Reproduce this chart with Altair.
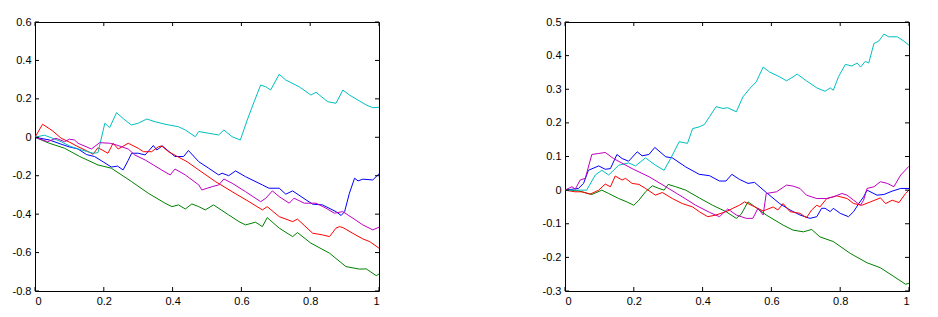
import altair as alt
import pandas as pd

# ---------------- data ----------------
SERIES = ["blue", "green", "red", "cyan", "magenta"]
COLORS = ["#0000FF", "#008000", "#FF0000", "#00BFBF", "#BF00BF"]

X_TICKS = [0, 0.2, 0.4, 0.6, 0.8, 1]
L_Y_TICKS = [-0.8, -0.6, -0.4, -0.2, 0, 0.2, 0.4, 0.6]
R_Y_TICKS = [-0.3, -0.2, -0.1, 0, 0.1, 0.2, 0.3, 0.4, 0.5]

# left panel
L_blue = [(0, 0), (0.042, -0.014), (0.076, -0.036), (0.1, -0.05), (0.125, -0.061), (0.15, -0.09),
          (0.173, -0.1), (0.2, -0.13), (0.222, -0.155), (0.24, -0.15), (0.256, -0.17), (0.271, -0.12),
          (0.281, -0.083), (0.30, -0.083), (0.32, -0.092), (0.344, -0.043), (0.354, -0.066),
          (0.37, -0.045), (0.407, -0.1), (0.432, -0.1), (0.446, -0.069), (0.476, -0.127),
          (0.505, -0.161), (0.534, -0.196), (0.544, -0.187), (0.563, -0.2), (0.583, -0.175),
          (0.612, -0.205), (0.661, -0.248), (0.68, -0.265), (0.71, -0.265), (0.729, -0.296),
          (0.749, -0.279), (0.788, -0.326), (0.807, -0.348), (0.836, -0.352), (0.875, -0.387),
          (0.89, -0.407), (0.9, -0.387), (0.914, -0.291), (0.929, -0.213), (0.939, -0.227),
          (0.953, -0.218), (0.982, -0.222), (1.0, -0.19)]
L_green = [(0, 0), (0.04, -0.03), (0.086, -0.057), (0.13, -0.1), (0.183, -0.144), (0.222, -0.161),
           (0.281, -0.231), (0.329, -0.291), (0.378, -0.343), (0.398, -0.361), (0.417, -0.352),
           (0.437, -0.373), (0.456, -0.347), (0.476, -0.361), (0.495, -0.378), (0.519, -0.352),
           (0.563, -0.404), (0.593, -0.439), (0.612, -0.456), (0.641, -0.442), (0.661, -0.465),
           (0.675, -0.418), (0.71, -0.473), (0.749, -0.517), (0.763, -0.496), (0.802, -0.551),
           (0.856, -0.603), (0.904, -0.673), (0.943, -0.686), (0.963, -0.685), (0.992, -0.72),
           (1.0, -0.712)]
L_red = [(0, 0), (0.022, 0.068), (0.05, 0.035), (0.076, -0.005), (0.1, -0.025), (0.125, -0.049),
         (0.15, -0.07), (0.169, -0.088), (0.183, -0.054), (0.212, -0.083), (0.227, -0.031),
         (0.242, -0.061), (0.271, -0.031), (0.3, -0.057), (0.315, -0.075), (0.339, -0.075),
         (0.359, -0.049), (0.368, -0.045), (0.388, -0.075), (0.442, -0.127), (0.476, -0.17),
         (0.524, -0.23), (0.573, -0.283), (0.622, -0.335), (0.661, -0.378), (0.675, -0.361),
         (0.71, -0.413), (0.749, -0.439), (0.763, -0.426), (0.807, -0.499), (0.836, -0.508),
         (0.856, -0.517), (0.875, -0.473), (0.885, -0.465), (0.895, -0.47), (0.924, -0.5),
         (0.953, -0.529), (0.973, -0.543), (1.0, -0.577)]
L_cyan = [(0, 0), (0.027, 0.011), (0.047, -0.002), (0.076, -0.023), (0.105, -0.049), (0.135, -0.066),
          (0.169, -0.083), (0.183, -0.08), (0.203, 0.073), (0.217, 0.05), (0.237, 0.128),
          (0.258, 0.095), (0.28, 0.064), (0.30, 0.073), (0.325, 0.095), (0.349, 0.081),
          (0.378, 0.068), (0.417, 0.055), (0.437, 0.038), (0.466, 0.003), (0.476, 0.03),
          (0.505, 0.021), (0.534, 0.012), (0.549, 0.038), (0.573, 0.003), (0.597, -0.014),
          (0.617, 0.09), (0.637, 0.185), (0.656, 0.272), (0.671, 0.263), (0.685, 0.246),
          (0.71, 0.328), (0.729, 0.298), (0.768, 0.263), (0.802, 0.22), (0.817, 0.234),
          (0.851, 0.185), (0.875, 0.177), (0.895, 0.246), (0.914, 0.22), (0.963, 0.168),
          (0.982, 0.154), (1.0, 0.156)]
L_magenta = [(0, 0), (0.037, -0.023), (0.061, -0.005), (0.086, -0.023), (0.1, -0.01), (0.115, -0.014),
             (0.125, -0.031), (0.164, -0.061), (0.188, -0.028), (0.217, -0.031), (0.237, -0.04),
             (0.271, -0.061), (0.29, -0.092), (0.32, -0.118), (0.368, -0.17), (0.393, -0.196),
             (0.407, -0.165), (0.437, -0.196), (0.476, -0.248), (0.485, -0.274), (0.515, -0.257),
             (0.534, -0.248), (0.549, -0.217), (0.573, -0.239), (0.612, -0.283), (0.656, -0.335),
             (0.671, -0.317), (0.69, -0.279), (0.71, -0.309), (0.739, -0.343), (0.753, -0.317),
             (0.783, -0.343), (0.817, -0.343), (0.846, -0.369), (0.87, -0.395), (0.895, -0.387),
             (0.924, -0.421), (0.953, -0.456), (0.982, -0.482), (1.0, -0.468)]

# right panel
R_blue = [(0, 0), (0.039, 0.005), (0.054, 0.02), (0.068, 0.059), (0.098, 0.072), (0.117, 0.062),
          (0.132, 0.064), (0.151, 0.106), (0.166, 0.094), (0.185, 0.086), (0.21, 0.114),
          (0.224, 0.102), (0.244, 0.106), (0.261, 0.127), (0.293, 0.099), (0.312, 0.096),
          (0.351, 0.069), (0.39, 0.047), (0.42, 0.043), (0.449, 0.027), (0.468, 0.027),
          (0.485, 0.047), (0.507, 0.032), (0.532, 0.02), (0.551, 0.023), (0.585, -0.007),
          (0.624, -0.04), (0.654, -0.059), (0.683, -0.074), (0.712, -0.084), (0.732, -0.079),
          (0.746, -0.054), (0.756, -0.054), (0.771, -0.064), (0.78, -0.054), (0.8, -0.069),
          (0.824, -0.079), (0.839, -0.064), (0.854, -0.04), (0.868, -0.02), (0.878, 0.0),
          (0.907, -0.015), (0.927, -0.013), (0.951, -0.003), (0.976, 0.005), (1.0, 0.005)]
R_green = [(0, 0), (0.039, -0.002), (0.078, -0.013), (0.107, 0.0), (0.127, -0.01), (0.156, -0.025),
           (0.18, -0.035), (0.2, -0.045), (0.215, -0.03), (0.234, -0.005), (0.254, 0.013),
           (0.273, 0.005), (0.288, 0.0), (0.3, 0.017), (0.322, 0.01), (0.351, 0.0), (0.39, -0.023),
           (0.429, -0.045), (0.468, -0.064), (0.498, -0.084), (0.512, -0.072), (0.532, -0.035),
           (0.546, -0.045), (0.585, -0.074), (0.634, -0.104), (0.663, -0.119), (0.693, -0.124),
           (0.717, -0.117), (0.741, -0.139), (0.78, -0.153), (0.829, -0.188), (0.878, -0.216),
           (0.917, -0.231), (0.956, -0.257), (0.99, -0.28), (1.0, -0.277)]
R_red = [(0, 0), (0.029, -0.005), (0.049, -0.005), (0.073, -0.012), (0.098, 0.0), (0.117, 0.018),
         (0.132, 0.01), (0.146, 0.042), (0.166, 0.03), (0.176, 0.035), (0.195, 0.02), (0.215, 0.017),
         (0.234, 0.005), (0.263, -0.015), (0.283, -0.007), (0.312, -0.025), (0.341, -0.04),
         (0.371, -0.05), (0.39, -0.064), (0.415, -0.079), (0.439, -0.074), (0.468, -0.064),
         (0.488, -0.054), (0.507, -0.045), (0.522, -0.035), (0.546, -0.047), (0.576, -0.062),
         (0.605, -0.05), (0.619, -0.059), (0.634, -0.04), (0.654, -0.064), (0.683, -0.069),
         (0.702, -0.082), (0.717, -0.059), (0.732, -0.045), (0.741, -0.05), (0.761, -0.025),
         (0.79, -0.017), (0.82, -0.025), (0.839, -0.04), (0.863, -0.045), (0.888, -0.035),
         (0.917, -0.023), (0.932, -0.04), (0.951, -0.03), (0.971, -0.037), (0.99, -0.01), (1.0, 0.0)]
R_cyan = [(0, 0), (0.063, 0.0), (0.088, 0.045), (0.107, 0.059), (0.127, 0.045), (0.156, 0.074),
          (0.185, 0.081), (0.205, 0.072), (0.234, 0.096), (0.263, 0.074), (0.288, 0.059),
          (0.307, 0.094), (0.332, 0.144), (0.356, 0.139), (0.371, 0.183), (0.39, 0.188),
          (0.405, 0.195), (0.42, 0.218), (0.439, 0.248), (0.459, 0.243), (0.473, 0.245),
          (0.498, 0.233), (0.517, 0.277), (0.537, 0.302), (0.556, 0.322), (0.576, 0.366),
          (0.595, 0.351), (0.624, 0.337), (0.644, 0.325), (0.663, 0.337), (0.675, 0.345),
          (0.702, 0.325), (0.732, 0.304), (0.756, 0.294), (0.771, 0.304), (0.78, 0.297),
          (0.795, 0.337), (0.815, 0.374), (0.834, 0.369), (0.849, 0.378), (0.859, 0.366),
          (0.873, 0.383), (0.883, 0.378), (0.898, 0.436), (0.912, 0.443), (0.927, 0.464),
          (0.941, 0.456), (0.966, 0.456), (0.985, 0.443), (1.0, 0.431)]
R_magenta = [(0, 0), (0.02, 0.01), (0.03, 0.003), (0.044, 0.03), (0.059, 0.035), (0.078, 0.106),
             (0.098, 0.109), (0.117, 0.112), (0.141, 0.094), (0.195, 0.064), (0.244, 0.04),
             (0.293, 0.01), (0.341, -0.02), (0.38, -0.045), (0.42, -0.066), (0.449, -0.079),
             (0.473, -0.056), (0.498, -0.074), (0.527, -0.084), (0.546, -0.084), (0.561, -0.054),
             (0.576, -0.074), (0.585, -0.01), (0.615, -0.005), (0.644, 0.015), (0.663, 0.012),
             (0.683, 0.005), (0.702, -0.015), (0.732, -0.025), (0.761, -0.025), (0.78, -0.02),
             (0.805, -0.01), (0.82, -0.015), (0.839, -0.03), (0.859, -0.045), (0.868, -0.03),
             (0.878, 0.005), (0.898, 0.01), (0.917, 0.025), (0.937, 0.02), (0.956, 0.01),
             (0.976, 0.045), (1.0, 0.071)]

W, H = 344, 269
FONT = "Liberation Sans"


def to_df(series_map):
    rows = []
    for name, pts in series_map.items():
        for i, (xv, yv) in enumerate(pts):
            rows.append({"series": name, "i": i, "x": xv, "y": yv})
    return pd.DataFrame(rows)


def panel(series_map, yticks, ydom):
    df = to_df(series_map)
    xs = alt.Scale(domain=[0, 1], nice=False, zero=False)
    ys = alt.Scale(domain=ydom, nice=False, zero=False)
    lab = "toString(datum.value)"
    xaxis = alt.Axis(values=X_TICKS, title=None, labelExpr=lab)
    yaxis = alt.Axis(values=yticks, title=None, labelExpr=lab)
    X = alt.X("x:Q", scale=xs, axis=xaxis)
    Y = alt.Y("y:Q", scale=ys, axis=yaxis)
    lines = alt.Chart(df).mark_line(strokeWidth=1, clip=True).encode(
        x=X, y=Y,
        color=alt.Color("series:N", scale=alt.Scale(domain=SERIES, range=COLORS), legend=None),
        order="i:Q",
    )
    ydf = pd.DataFrame({"y": yticks})
    xdf = pd.DataFrame({"x": X_TICKS})
    tl = alt.Chart(ydf).mark_rule(color="black", strokeWidth=1).encode(
        y=Y, x=alt.value(0), x2=alt.value(4))
    tr = alt.Chart(ydf).mark_rule(color="black", strokeWidth=1).encode(
        y=Y, x=alt.value(W - 4), x2=alt.value(W))
    tb = alt.Chart(xdf).mark_rule(color="black", strokeWidth=1).encode(
        x=X, y=alt.value(H - 4), y2=alt.value(H))
    tt = alt.Chart(xdf).mark_rule(color="black", strokeWidth=1).encode(
        x=X, y=alt.value(0), y2=alt.value(4))
    return alt.layer(lines, tl, tr, tb, tt).properties(width=W, height=H)


left = panel({"blue": L_blue, "green": L_green, "red": L_red, "cyan": L_cyan, "magenta": L_magenta},
             L_Y_TICKS, [-0.8, 0.6])
right = panel({"blue": R_blue, "green": R_green, "red": R_red, "cyan": R_cyan, "magenta": R_magenta},
              R_Y_TICKS, [-0.3, 0.5])

chart = alt.hconcat(left, right, spacing=161).properties(
    padding={"left": 3, "top": 7, "right": 5, "bottom": 5},
    background="white",
).configure_view(stroke="black", strokeWidth=1).configure_axis(
    grid=False, domain=False, ticks=False, labelFont=FONT, labelFontSize=11,
    labelColor="black", labelPadding=4,
)

chart.save("out.html", embed_options={"renderer": "svg", "actions": False})
